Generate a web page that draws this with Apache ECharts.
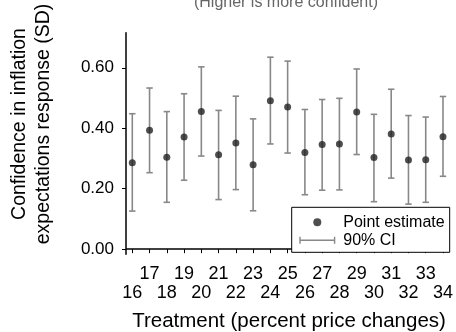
<!DOCTYPE html>
<html>
<head>
<meta charset="utf-8">
<script src="https://cdn.jsdelivr.net/npm/echarts@6/dist/echarts.min.js"></script>
<style>html,body{margin:0;padding:0;background:#fff;}#c{width:456px;height:332px;}</style>
</head>
<body>
<div id="c"></div>
<script>
var treatments = [16,17,18,19,20,21,22,23,24,25,26,27,28,29,30,31,32,33,34];
var estimate = [0.286,0.393,0.304,0.371,0.455,0.312,0.351,0.279,0.491,0.470,0.320,0.346,0.348,0.454,0.303,0.381,0.295,0.296,0.372];
var upper    = [0.448,0.533,0.455,0.514,0.603,0.459,0.506,0.431,0.635,0.622,0.462,0.495,0.499,0.596,0.446,0.529,0.442,0.437,0.505];
var lower    = [0.126,0.253,0.155,0.228,0.308,0.164,0.197,0.127,0.348,0.318,0.180,0.195,0.196,0.313,0.157,0.235,0.149,0.155,0.241];
var yTicks = [0, 0.2, 0.4, 0.6];
var xTickLabelsOdd = [17,19,21,23,25,27,29,31,33];
var xTickLabelsEven = [16,18,20,22,24,26,28,30,32,34];

var FONT = '"Liberation Sans", Arial, Helvetica, sans-serif';
var pointData = treatments.map(function(t,i){ return [t, estimate[i]]; });
var ciData = treatments.map(function(t,i){ return [t, lower[i], upper[i]]; });

var xMin = 15.636, xMax = 34.364;

var chart = echarts.init(document.getElementById('c'), null, {renderer:'canvas'});
chart.setOption({
  animation: false,
  backgroundColor: '#fff',
  textStyle: {fontFamily: FONT},
  grid: {left: 126, right: 6, top: 32.7, bottom: 77.7, containLabel: false},
  graphic: [
    {type:'text', x: 286, y: 2.5,
     style:{text:'(Higher is more confident)', font:'16px ' + FONT, fill:'#666', align:'center', verticalAlign:'middle'}},
    {type:'text', x: 32, y: 124, rotation: Math.PI/2,
     style:{text:'Confidence in inflation\nexpectations response (SD)', font:'19.5px ' + FONT, fill:'#000', align:'center', verticalAlign:'middle', lineHeight: 24}},
    {type:'text', x: 289, y: 321,
     style:{text:'Treatment (percent price changes)', font:'20.5px ' + FONT, fill:'#000', align:'center', verticalAlign:'middle'}}
  ],
  legend: {
    orient: 'vertical',
    left: 291.7, top: 207.3,
    padding: [7, 5, 4, 7.6],
    itemGap: 2,
    itemWidth: 36, itemHeight: 8,
    borderColor: '#000', borderWidth: 1,
    backgroundColor: '#fff',
    textStyle: {fontSize: 16, fontFamily: FONT, color: '#000', lineHeight: 16, padding: [0,0,0,3]},
    data: [
      {name: 'Point estimate', icon: 'circle', itemStyle: {color: '#222'}},
      {name: '90% CI', icon: 'path://M0,0h1.4v7h-1.4z M0,2.8h36v1.4h-36z M34.6,0h1.4v7h-1.4z', itemStyle: {color: '#888'}}
    ],
    z: 10
  },
  xAxis: [
    {
      type: 'value', min: xMin, max: xMax, position: 'bottom',
      axisLine: {show: false},
      splitLine: {show: false},
      axisTick: {show: true, length: 4, lineStyle: {color: '#000', width: 1}, customValues: treatments},
      axisLabel: {
        customValues: xTickLabelsOdd,
        showMinLabel: true, showMaxLabel: true, hideOverlap: false,
        margin: 10,
        fontSize: 18, lineHeight: 19, color: '#000', fontFamily: FONT,
        formatter: function(v){ return String(Math.round(v)); }
      }
    },
    {
      type: 'value', min: xMin, max: xMax, position: 'bottom', offset: 0,
      axisLine: {show: false},
      splitLine: {show: false},
      axisTick: {show: false},
      axisLabel: {
        customValues: xTickLabelsEven,
        showMinLabel: true, showMaxLabel: true, hideOverlap: false,
        margin: 29,
        fontSize: 18, lineHeight: 19, color: '#000', fontFamily: FONT,
        formatter: function(v){ return String(Math.round(v)); }
      }
    }
  ],
  yAxis: {
    type: 'value', min: -0.017, max: 0.716,
    axisLine: {show: true, lineStyle: {color: '#000', width: 1.5}},
    splitLine: {show: false},
    axisTick: {show: true, length: 4, lineStyle: {color: '#000', width: 1}, customValues: yTicks},
    axisLabel: {
      customValues: yTicks, margin: 12,
      showMinLabel: true, showMaxLabel: true,
      fontSize: 17, color: '#000', fontFamily: FONT,
      formatter: function(v){ return v.toFixed(2); }
    }
  },
  series: [
    {
      name: '90% CI', type: 'custom', z: 2,
      data: ciData,
      encode: {x: 0, y: [1, 2]},
      renderItem: function(params, api){
        var x = api.value(0);
        var lo = api.coord([x, api.value(1)]);
        var hi = api.coord([x, api.value(2)]);
        var hw = 3.2;
        var st = {stroke: '#888', lineWidth: 1.6};
        return {type: 'group', children: [
          {type:'line', shape:{x1: lo[0], y1: lo[1], x2: hi[0], y2: hi[1]}, style: st},
          {type:'line', shape:{x1: lo[0]-hw, y1: lo[1], x2: lo[0]+hw, y2: lo[1]}, style: st},
          {type:'line', shape:{x1: hi[0]-hw, y1: hi[1], x2: hi[0]+hw, y2: hi[1]}, style: st}
        ]};
      }
    },
    {
      name: 'Point estimate', type: 'scatter', z: 3,
      data: pointData, symbol: 'circle', symbolSize: 7,
      itemStyle: {color: '#222'},
      markLine: {
        silent: true, symbol: 'none', animation: false,
        label: {show: false},
        lineStyle: {color: '#000', width: 1.5, type: 'solid'},
        data: [{yAxis: 0}]
      }
    }
  ]
});
</script>
</body>
</html>
